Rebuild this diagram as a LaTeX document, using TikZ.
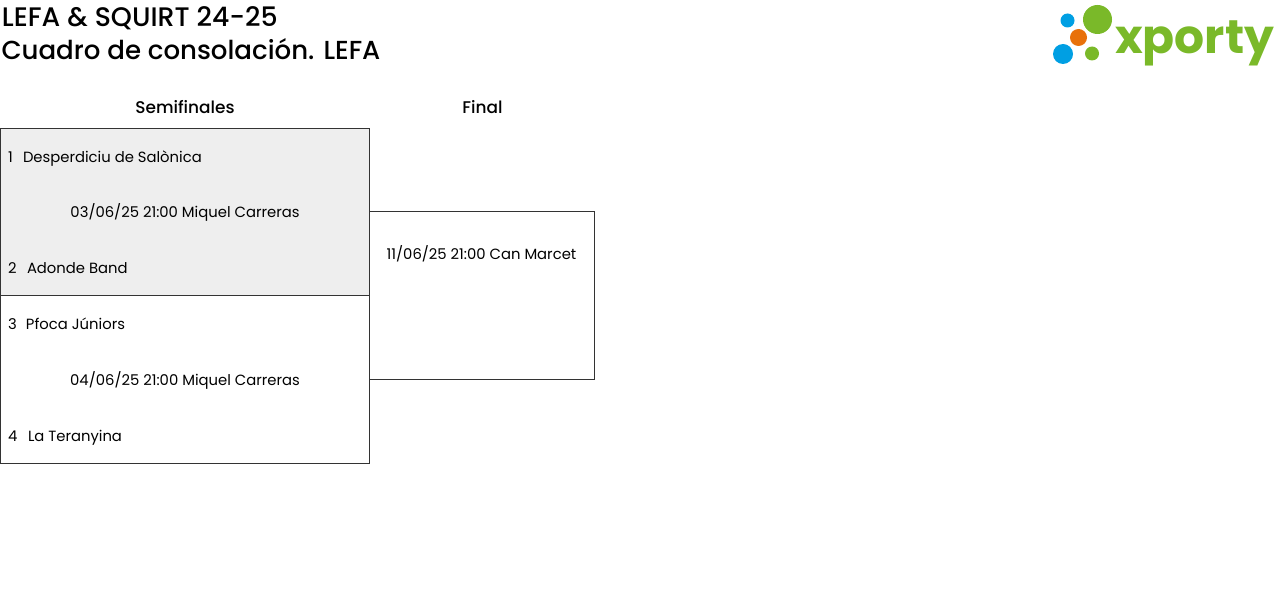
\documentclass[tikz,border=0pt]{standalone}
\usepackage{fontspec}
\setmainfont{Poppins}
\newfontfamily\mediumfont{Poppins Medium}
\usepackage{xcolor}
\usetikzlibrary{positioning}
\definecolor{ink}{HTML}{000000}
\definecolor{boxline}{HTML}{333333}
\definecolor{boxfill}{HTML}{EEEEEE}
\definecolor{logogreen}{HTML}{7AB929}
\definecolor{logoblue}{HTML}{009FE3}
\definecolor{logoorange}{HTML}{E8710A}

\begin{document}
\begin{tikzpicture}[
  x=0.75pt, y=-0.75pt,
  every node/.style={font=\fontsize{11.1pt}{13pt}\selectfont, color=ink, inner sep=0pt, outer sep=0pt},
  titletext/.style={font=\mediumfont\fontsize{#1}{22pt}\selectfont, anchor=base west},
  headtext/.style={font=\mediumfont\fontsize{12.7pt}{14pt}\selectfont, anchor=base},
  matchbox/.style={rectangle, draw=boxline, line width=0.7pt, minimum width=276.75pt, minimum height=#1},
  finalbox/.style={rectangle, draw=boxline, line width=0.7pt, minimum width=168.75pt, minimum height=126pt},
  teamtext/.style={anchor=base west},
  timetext/.style={anchor=base},
  dot/.style={circle, minimum size=#1*0.75pt}
]
\useasboundingbox (0,0) rectangle (1280,595);

% titles
\node[titletext=20.1pt] (title) at (2,27) {LEFA \& SQUIRT 24-25};
\node[titletext=19.55pt] (subtitle) at (1.5,60) {Cuadro de consolación. LEFA};

% logo
\node[dot=29, fill=logogreen] (dotbig) at (1097.5,19.5) {};
\node[dot=14, fill=logoblue] (dottop) at (1067.5,20.5) {};
\node[dot=17, fill=logoorange] (dotmid) at (1078.5,37.5) {};
\node[dot=20, fill=logoblue] (dotlow) at (1063,54) {};
\node[dot=14, fill=logogreen] (dotsmall) at (1092,53.5) {};
\node[anchor=base west, font=\fontsize{35.4pt}{40pt}\bfseries\selectfont, color=logogreen] (brand) at (1115,54) {xporty};

% boxes
\node[matchbox=125.25pt, fill=boxfill, anchor=north west] (semione) at (0.5,128.5) {};
\node[matchbox=126pt, below=0pt of semione] (semitwo) {};
\node[finalbox, anchor=north west] (final) at (369.5,211.5) {};

% column heads
\node[headtext] (headsemi) at (185,114) {Semifinales};
\node[headtext] (headfinal) at (482.5,114) {Final};

% teams
\node[teamtext] (seedone) at (8,163) {1};
\node[teamtext] (teamone) at (23,163) {Desperdiciu de Salònica};
\node[teamtext] (seedtwo) at (8,273) {2};
\node[teamtext] (teamtwo) at (27,273) {Adonde Band};
\node[teamtext] (seedthree) at (8,329) {3};
\node[teamtext] (teamthree) at (26,329) {Pfoca Júniors};
\node[teamtext] (seedfour) at (8,441) {4};
\node[teamtext] (teamfour) at (28,441) {La Teranyina};

% matches
\node[timetext] (matchone) at (185,218) {03/06/25 21:00 Miquel Carreras};
\node[timetext] (matchtwo) at (185,385) {04/06/25 21:00 Miquel Carreras};
\node[timetext] (matchfinal) at (481.5,259) {11/06/25 21:00 Can Marcet};
\end{tikzpicture}
\end{document}
